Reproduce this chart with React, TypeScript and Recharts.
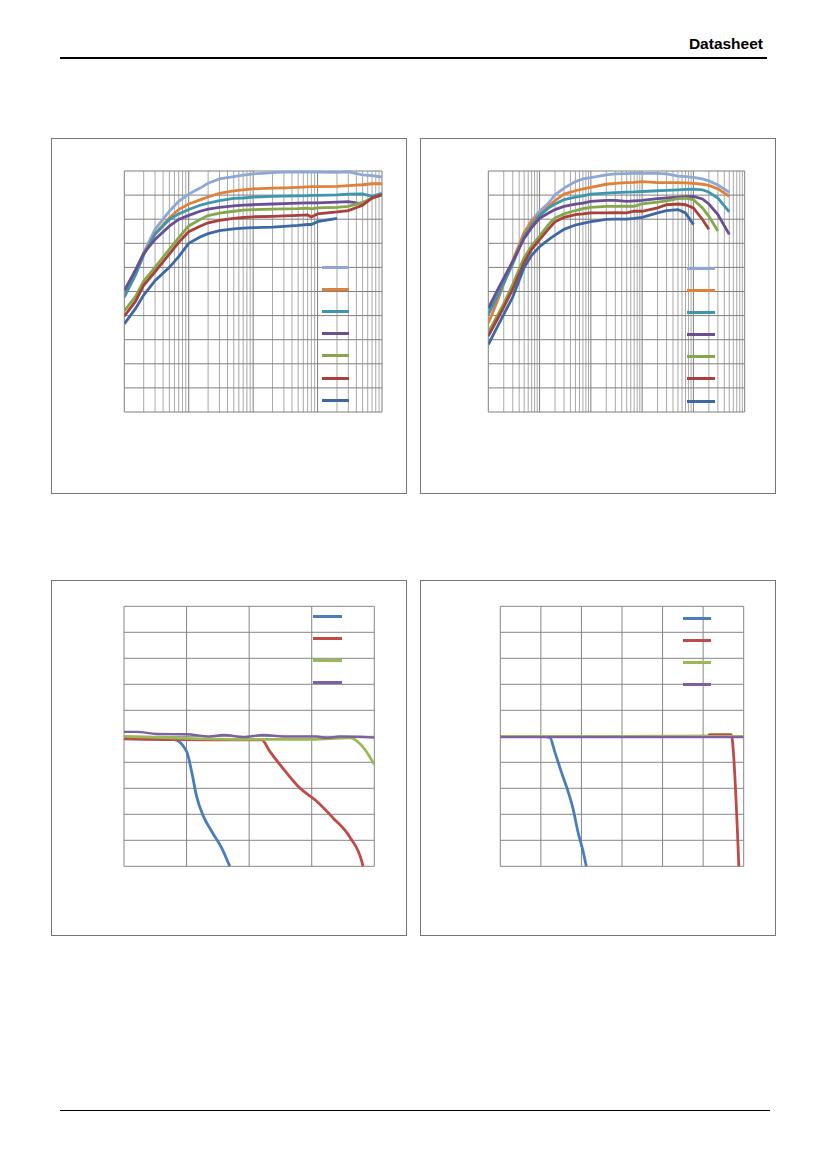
import React from 'react';
import { LineChart, Line, XAxis, YAxis, ReferenceLine, Legend } from 'recharts';

// ---- top-left: log x, 4 decades ----
const sweepX1 = [1, 1.5, 2, 3, 5, 7, 10, 15, 20, 30, 50, 70, 100, 200, 300, 500, 700, 800, 1000, 2000, 3000, 5000, 7000, 10000];
const s1Lb = [50.1, 59, 66, 75.8, 83.3, 87.4, 90.4, 92.9, 94.9, 96.7, 97.7, 98.3, 98.8, 99.3, 99.5, 99.5, 99.5, 99.5, 99.5, 99.4, 99.6, 98.4, 98.1, 97.5];
const s1Or = [49, 57.5, 65.5, 74, 80.5, 84, 86.3, 88, 89.2, 90.7, 91.8, 92.2, 92.6, 92.9, 93, 93.2, 93.4, 93.5, 93.5, 93.6, 93.9, 94.3, 94.7, 94.7];
const s1Te = [47.7, 57, 65.2, 73.7, 79.9, 82.2, 84, 85.8, 86.7, 87.7, 88.6, 88.8, 89.2, 89.5, 89.6, 89.7, 89.8, 89.9, 89.9, 90.1, 90.4, 90.5, 89.5, 90.7];
const s1Pu = [50.4, 59, 65.8, 71.6, 77.1, 79.9, 81.6, 83.3, 84.2, 84.9, 85.5, 85.8, 86, 86.3, 86.5, 86.7, 86.8, 86.8, 86.8, 87.1, 87.3, 86.4, 88.8, 90.1];
const s1Gr = [42, 48, 54.3, 60, 67.5, 72.3, 77.2, 79.9, 81.5, 82.5, 83.3, 83.8, 84, 84.2, 84.3, 84.4, 84.6, 84.3, 84.7, 84.9, 85.3, 87, 88.6, 90.1];
const s1Re = [39.8, 46, 52.6, 58.2, 65.5, 70.4, 74.8, 77.1, 78.5, 79.5, 80.3, 80.7, 81, 81.2, 81.4, 81.6, 81.8, 80.9, 82.2, 83, 83.6, 85.8, 88.8, 90.1];
const s1Bl = [36.5, 43, 48.5, 54.5, 60, 64.5, 70, 72.6, 74, 75.3, 76, 76.3, 76.5, 76.7, 77, 77.4, 77.8, 77.8, 79, 80.3, null, null, null, null];

// ---- top-right: log x, 5 decades ----
const sweepX2 = [1, 1.5, 2, 3, 5, 7, 10, 15, 20, 30, 50, 70, 100, 200, 300, 500, 700, 1000, 2000, 3000, 5000, 7000, 10000, 15000, 20000, 30000, 50000];
const s2Lb = [42, 48.5, 54.5, 62.5, 73.5, 79.5, 83.3, 86.7, 90.1, 92.9, 95.6, 96.7, 97.3, 98.4, 98.8, 98.9, 99, 99, 99, 98.8, 97.9, 97.7, 97.4, 96.7, 95.9, 94.2, 91.2];
const s2Or = [36.8, 46, 53.2, 62.8, 74.5, 79.2, 81.9, 85.3, 87.7, 90.4, 91.8, 92.6, 93.2, 94.5, 94.9, 95.2, 95.3, 95.6, 95.2, 95.2, 95.2, 95.1, 94.9, 94.5, 94, 92.6, 89.5];
const s2Te = [40.5, 48, 53.5, 61.5, 73, 77.5, 81.5, 84.7, 86.3, 88.1, 89.2, 89.7, 90.4, 90.8, 91, 91.2, 91.3, 91.5, 91.8, 92, 92.2, 92.4, 92.5, 92.2, 91.2, 88.8, 83];
const s2Pu = [43, 50.5, 55.5, 62.5, 72, 76.5, 80.4, 82.6, 84, 85.3, 86.3, 86.7, 87.4, 87.8, 87.8, 87.4, 87.6, 87.8, 88.5, 88.8, 89.2, 89.4, 89.5, 88.4, 86.3, 81.9, 73.7];
const s2Gr = [33, 40, 45, 53, 64, 69, 73, 77.8, 80.5, 82.2, 83.6, 84.4, 84.9, 85.3, 85.3, 85.4, 85.3, 86.4, 87.1, 87.6, 88.5, 88.7, 88.1, 84.7, 81.2, 75.1, null];
const s2Re = [31.5, 38.5, 43.5, 51, 62, 67.5, 71.5, 76, 78.9, 80.8, 81.9, 82.2, 82.6, 82.6, 82.7, 82.6, 83.3, 83.3, 84.7, 86, 86.3, 86, 84.7, 79.9, 75.8, null, null];
const s2Bl = [28, 35.3, 40.5, 47.7, 60, 65, 68.6, 71.5, 73.4, 75.8, 77.6, 78.3, 79, 79.9, 80, 80, 80.3, 80.8, 82.6, 83.6, 84, 82.6, 77.8, null, null, null, null];

// ---- bottom-left: linear x 0..40 ----
const d3BlueX = [0, 4, 8, 10, 10.8, 11.6, 12.7, 14, 15.6, 16.9];
const d3BlueY = [49.1, 49, 48.7, 44.2, 36.5, 26.9, 19.2, 13.5, 7.1, 0];
const d3RedX = [0, 5, 10, 15, 22, 23.3, 26, 28.1, 30.8, 33.4, 36.1, 38, 38.2];
const d3RedY = [49, 48.8, 48.7, 48.6, 48.6, 44.2, 35.9, 30.1, 25, 18.6, 11.2, 1.9, 0];
const d3GreenX = [0, 5, 10, 20, 30, 36.1, 38, 40];
const d3GreenY = [50, 49.6, 49.2, 48.8, 48.8, 49.4, 46.4, 39.1];
const d3PurpleX = [0, 2, 5.2, 10, 13.7, 15.9, 19.1, 22.3, 25.5, 30.8, 32.4, 34.5, 40];
const d3PurpleY = [51.7, 51.7, 50.9, 50.8, 49.9, 50.5, 49.7, 50.5, 49.9, 49.9, 49.4, 49.9, 49.5];

// ---- bottom-right: linear x 0..60 ----
const d4BlueX = [0, 5, 10, 12.2, 13.4, 15, 16.7, 17.9, 19.1, 20.4, 21.2];
const d4BlueY = [50, 50, 50, 49.6, 44.2, 36.5, 28.8, 22.4, 13.5, 5.8, 0];
const d4RedX = [0, 30, 51.2, 51.6, 56.9, 57.1, 58.8];
const d4RedY = [50, 50, 50.1, 50.6, 50.6, 49.6, 0];
const d4GreenX = [0, 60];
const d4GreenY = [50, 50];
const d4PurpleX = [0, 60];
const d4PurpleY = [49.7, 49.7];

const yTicks = [0, 10, 20, 30, 40, 50, 60, 70, 80, 90, 100];
const xTicks3 = [0, 10, 20, 30, 40];
const xTicks4 = [0, 10, 20, 30, 40, 50, 60];
const decades1 = [1, 10, 100, 1000, 10000];
const decades2 = [1, 10, 100, 1000, 10000, 100000];

const colors7 = ['#8da8d4', '#e0813a', '#3c97ae', '#6a4e92', '#84a74a', '#a8403c', '#3d68a3'];
const colors4 = ['#4a7ebb', '#be4b48', '#98b954', '#7d60a0'];

// minor grid positions 2..9 inside each decade
const minorTicks = (decades: number[]) => {
  const out: number[] = [];
  decades.slice(0, -1).forEach((d) => {
    for (let m = 2; m < 10; m++) out.push(d * m);
  });
  return out;
};

const rows = (xs: number[], series: (number | null)[][]) =>
  xs.map((x, i) => {
    const r: Record<string, number | null> = { x };
    series.forEach((s, k) => (r['s' + k] = s[i]));
    return r;
  });

const pts = (xs: number[], ys: number[]) => xs.map((x, i) => ({ x, y: ys[i] }));

const SIZE = 354;

function Frame({ left, top, children }: { left: number; top: number; children: React.ReactNode }) {
  return (
    <div
      style={{
        position: 'absolute',
        left,
        top,
        width: 356,
        height: 356,
        boxSizing: 'border-box',
        border: '1px solid #767676',
      }}
    >
      {children}
    </div>
  );
}

const swatchLegend = (step: number, width: number) => (props: any) => {
  const items = props.payload ?? [];
  return (
    <div>
      {items.map((p: any, i: number) => (
        <div key={i} style={{ height: step, position: 'relative' }}>
          <div
            style={{
              position: 'absolute',
              left: 0,
              top: step / 2 - 1.5,
              width,
              height: 3,
              background: p.color,
            }}
          />
        </div>
      ))}
    </div>
  );
};

function LogPanel({
  data,
  count,
  decades,
  margin,
  legendPos,
}: {
  data: Record<string, number | null>[];
  count: number;
  decades: number[];
  margin: { top: number; right: number; bottom: number; left: number };
  legendPos: { left: number; top: number; width: number };
}) {
  const keys = Array.from({ length: count }, (_, k) => 's' + k);
  return (
    <LineChart width={SIZE} height={SIZE} data={data} margin={margin}>
      <XAxis
        dataKey="x"
        type="number"
        scale="log"
        domain={[decades[0], decades[decades.length - 1]]}
        allowDataOverflow
        height={0}
        tick={false}
        axisLine={false}
        tickLine={false}
      />
      <YAxis type="number" domain={[0, 100]} width={0} tick={false} axisLine={false} tickLine={false} />
      {minorTicks(decades).map((t) => (
        <ReferenceLine key={'m' + t} x={t} stroke="#a9a9a9" />
      ))}
      {yTicks.map((t) => (
        <ReferenceLine key={'h' + t} y={t} stroke="#7f7f7f" />
      ))}
      {decades.map((d) => (
        <ReferenceLine key={'d' + d} x={d} stroke="#7f7f7f" />
      ))}
      {keys.map((k, i) => (
        <Line
          key={k}
          dataKey={k}
          name={k}
          stroke={colors7[i]}
          strokeWidth={2.8}
          dot={false}
          type="linear"
          isAnimationActive={false}
        />
      ))}
      <Legend
        layout="vertical"
        align="center"
        verticalAlign="middle"
        itemSorter={null as any}
        content={swatchLegend(22.17, legendPos.width)}
        wrapperStyle={{ left: legendPos.left, top: legendPos.top, width: legendPos.width }}
      />
    </LineChart>
  );
}

function LinPanel({
  series,
  xMax,
  xTicks,
  margin,
  legendPos,
}: {
  series: { x: number; y: number }[][];
  xMax: number;
  xTicks: number[];
  margin: { top: number; right: number; bottom: number; left: number };
  legendPos: { left: number; top: number; width: number };
}) {
  return (
    <LineChart width={SIZE} height={SIZE} margin={margin}>
      <XAxis
        dataKey="x"
        type="number"
        domain={[0, xMax]}
        allowDataOverflow
        height={0}
        tick={false}
        axisLine={false}
        tickLine={false}
      />
      <YAxis type="number" domain={[0, 100]} width={0} tick={false} axisLine={false} tickLine={false} />
      {xTicks.map((t) => (
        <ReferenceLine key={'v' + t} x={t} stroke="#868686" />
      ))}
      {yTicks.map((t) => (
        <ReferenceLine key={'h' + t} y={t} stroke="#868686" />
      ))}
      {series.map((s, i) => (
        <Line
          key={'d' + i}
          data={s}
          dataKey="y"
          name={'d' + i}
          stroke={colors4[i]}
          strokeWidth={i === 3 ? 2.4 : 2.8}
          dot={false}
          type="monotone"
          isAnimationActive={false}
        />
      ))}
      <Legend
        layout="vertical"
        align="center"
        verticalAlign="middle"
        itemSorter={null as any}
        content={swatchLegend(21.9, legendPos.width)}
        wrapperStyle={{ left: legendPos.left, top: legendPos.top, width: legendPos.width }}
      />
    </LineChart>
  );
}

export default function App() {
  const data1 = rows(sweepX1, [s1Lb, s1Or, s1Te, s1Pu, s1Gr, s1Re, s1Bl]);
  const data2 = rows(sweepX2, [s2Lb, s2Or, s2Te, s2Pu, s2Gr, s2Re, s2Bl]);
  const series3 = [pts(d3BlueX, d3BlueY), pts(d3RedX, d3RedY), pts(d3GreenX, d3GreenY), pts(d3PurpleX, d3PurpleY)];
  const series4 = [pts(d4BlueX, d4BlueY), pts(d4RedX, d4RedY), pts(d4GreenX, d4GreenY), pts(d4PurpleX, d4PurpleY)];

  return (
    <div
      style={{
        position: 'absolute',
        left: 0,
        top: 0,
        width: 827,
        height: 1169,
        background: '#fff',
        fontFamily: '"Liberation Sans", Arial, sans-serif',
      }}
    >
      <div
        style={{
          position: 'absolute',
          right: 64,
          top: 35.5,
          fontSize: 15.5,
          lineHeight: '16px',
          fontWeight: 'bold',
          color: '#000',
        }}
      >
        Datasheet
      </div>
      <div style={{ position: 'absolute', left: 60, top: 56.5, width: 707, height: 2.6, background: '#000' }} />

      <Frame left={51} top={138}>
        <LogPanel
          data={data1}
          count={7}
          decades={decades1}
          margin={{ top: 32, right: 24, bottom: 81, left: 72.3 }}
          legendPos={{ left: 270, top: 117.2, width: 26.7 }}
        />
      </Frame>
      <Frame left={420} top={138}>
        <LogPanel
          data={data2}
          count={7}
          decades={decades2}
          margin={{ top: 32, right: 30.3, bottom: 81, left: 67.3 }}
          legendPos={{ left: 266, top: 118, width: 28 }}
        />
      </Frame>
      <Frame left={51} top={580}>
        <LinPanel
          series={series3}
          xMax={40}
          xTicks={xTicks3}
          margin={{ top: 25.3, right: 31.7, bottom: 68.7, left: 72 }}
          legendPos={{ left: 261.3, top: 24.75, width: 29 }}
        />
      </Frame>
      <Frame left={420} top={580}>
        <LinPanel
          series={series4}
          xMax={60}
          xTicks={xTicks4}
          margin={{ top: 25.3, right: 31.3, bottom: 68.7, left: 79.3 }}
          legendPos={{ left: 262, top: 26.7, width: 28.3 }}
        />
      </Frame>

      <div style={{ position: 'absolute', left: 60, top: 1110, width: 710, height: 1, background: '#000' }} />
    </div>
  );
}
